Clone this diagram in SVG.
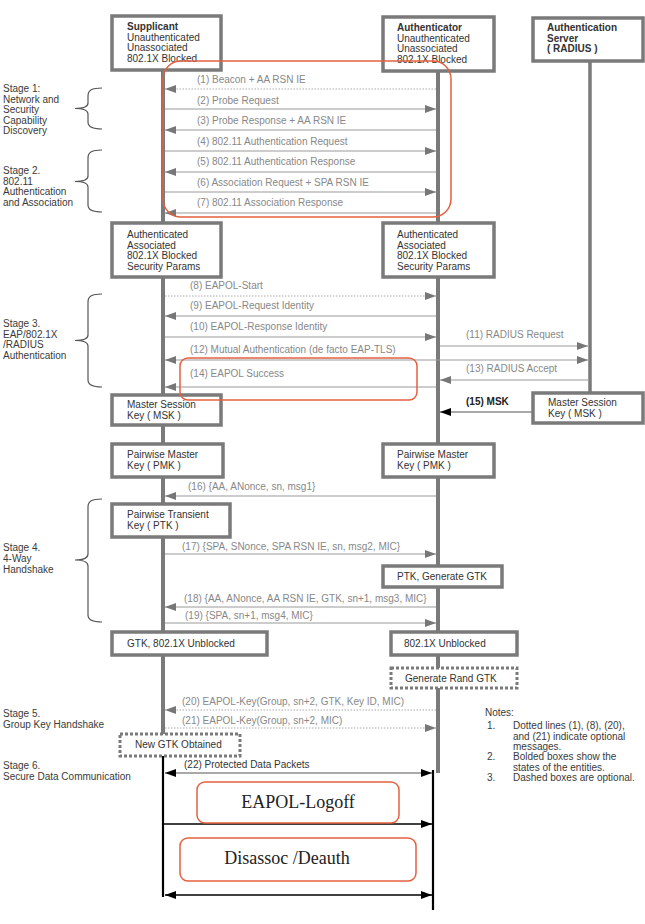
<svg xmlns="http://www.w3.org/2000/svg" width="645" height="924" viewBox="0 0 645 924">
<style>
.bx{fill:#fff;stroke:#7a7a7a;stroke-width:3.5}
.dbx{fill:#fff;stroke:#7a7a7a;stroke-width:3;stroke-dasharray:3,2}
.t{font-family:"Liberation Sans",Arial,sans-serif;font-size:10px;fill:#333}
.b{font-weight:bold}
.m{font-family:"Liberation Sans",Arial,sans-serif;font-size:10px;fill:#888}
.st{font-family:"Liberation Sans",Arial,sans-serif;font-size:10px;fill:#3a3a3a}
.ll{stroke:#7a7a7a;stroke-width:4;fill:none}
.msg{stroke:#999;stroke-width:1.2;fill:none}
.dot{stroke:#aaa;stroke-width:1;stroke-dasharray:1.5,1.5;fill:none}
.blk{stroke:#000;stroke-width:1.6;fill:none}
.red{fill:none;stroke:#e4603f;stroke-width:1.5}
.brace{fill:none;stroke:#555;stroke-width:1.2}
.serif{font-family:"Liberation Serif","Times New Roman",serif;font-size:18px;fill:#222}
</style>
<defs>
<marker id="ag" markerUnits="userSpaceOnUse" markerWidth="12" markerHeight="10" refX="11" refY="4" orient="auto-start-reverse"><path d="M0,0 L11,4 L0,8 z" fill="#777"/></marker>
<marker id="ab" markerUnits="userSpaceOnUse" markerWidth="12" markerHeight="10" refX="11" refY="4" orient="auto-start-reverse"><path d="M0,0 L11,4 L0,8 z" fill="#000"/></marker>
</defs>
<rect width="645" height="924" fill="#fff"/>

<g id="lifelines">
<line class="ll" x1="163" y1="70" x2="163" y2="745"/>
<line class="ll" x1="438" y1="71" x2="438" y2="773"/>
<line class="ll" x1="590" y1="61" x2="590" y2="395" style="stroke-width:3.5"/>
<line class="blk" x1="163" y1="752" x2="163" y2="897" style="stroke-width:2.2"/>
<line class="blk" x1="433" y1="770" x2="433" y2="910" style="stroke-width:2.2"/>
</g>

<g id="connectors">
<line class="dot" x1="436" y1="89" x2="165" y2="89" marker-end="url(#ag)"/>
<line class="msg" x1="165" y1="109" x2="436" y2="109" marker-end="url(#ag)"/>
<line class="msg" x1="436" y1="130" x2="165" y2="130" marker-end="url(#ag)"/>
<line class="msg" x1="165" y1="151" x2="436" y2="151" marker-end="url(#ag)"/>
<line class="msg" x1="436" y1="172" x2="165" y2="172" marker-end="url(#ag)"/>
<line class="msg" x1="165" y1="192" x2="436" y2="192" marker-end="url(#ag)"/>
<line class="msg" x1="436" y1="213" x2="165" y2="213" marker-end="url(#ag)"/>
<line class="dot" x1="165" y1="296" x2="436" y2="296" marker-end="url(#ag)"/>
<line class="msg" x1="436" y1="316" x2="165" y2="316" marker-end="url(#ag)"/>
<line class="msg" x1="165" y1="337" x2="436" y2="337" marker-end="url(#ag)"/>
<line class="msg" x1="440" y1="346" x2="588" y2="346" marker-end="url(#ag)"/>
<line class="msg" x1="165" y1="360" x2="588" y2="360" marker-start="url(#ag)" marker-end="url(#ag)"/>
<line class="msg" x1="588" y1="380" x2="440" y2="380" marker-end="url(#ag)"/>
<line class="msg" x1="436" y1="387" x2="165" y2="387" marker-end="url(#ag)"/>
<line class="msg" x1="533" y1="412" x2="440" y2="412" style="stroke:#555" marker-end="url(#ab)"/>
<line class="msg" x1="436" y1="496" x2="165" y2="496" marker-end="url(#ag)"/>
<line class="msg" x1="165" y1="554" x2="436" y2="554" marker-end="url(#ag)"/>
<line class="msg" x1="436" y1="607" x2="165" y2="607" marker-end="url(#ag)"/>
<line class="msg" x1="165" y1="623" x2="436" y2="623" marker-end="url(#ag)"/>
<line class="dot" x1="436" y1="710" x2="165" y2="710" marker-end="url(#ag)"/>
<line class="dot" x1="165" y1="728" x2="436" y2="728" marker-end="url(#ag)"/>
<line class="msg" x1="165" y1="773" x2="432" y2="773" style="stroke:#555" marker-start="url(#ab)" marker-end="url(#ab)"/>
<line class="blk" x1="164" y1="824" x2="432" y2="824" marker-end="url(#ab)"/>
<line class="blk" x1="165" y1="895" x2="432" y2="895" marker-start="url(#ab)" marker-end="url(#ab)"/>
</g>

<g id="msg-labels" xml:space="preserve">
<text class="m" x="197" y="83">(1)  Beacon + AA RSN IE</text>
<text class="m" x="197" y="104">(2)  Probe Request</text>
<text class="m" x="197" y="124">(3)  Probe Response + AA RSN IE</text>
<text class="m" x="197" y="145">(4)  802.11 Authentication Request</text>
<text class="m" x="197" y="165">(5)  802.11 Authentication Response</text>
<text class="m" x="197" y="186">(6)  Association Request + SPA RSN IE</text>
<text class="m" x="197" y="206">(7)  802.11 Association Response</text>
<text class="m" x="190" y="289">(8)  EAPOL-Start</text>
<text class="m" x="190" y="309">(9)  EAPOL-Request Identity</text>
<text class="m" x="190" y="330">(10) EAPOL-Response Identity</text>
<text class="m" x="466" y="338">(11) RADIUS Request</text>
<text class="m" x="190" y="353">(12) Mutual Authentication (de facto EAP-TLS)</text>
<text class="m" x="466" y="372">(13) RADIUS Accept</text>
<text class="m" x="190" y="377">(14) EAPOL Success</text>
<text class="t b" x="466" y="405" style="fill:#222">(15) MSK</text>
<text class="m" x="188" y="490">(16) {AA, ANonce, sn, msg1}</text>
<text class="m" x="182" y="550">(17) {SPA, SNonce, SPA RSN IE, sn, msg2, MIC}</text>
<text class="m" x="184" y="602">(18) {AA, ANonce, AA RSN IE, GTK, sn+1, msg3, MIC}</text>
<text class="m" x="185" y="619">(19) {SPA, sn+1, msg4, MIC}</text>
<text class="m" x="182" y="705">(20) EAPOL-Key(Group, sn+2, GTK, Key ID, MIC)</text>
<text class="m" x="182" y="724">(21) EAPOL-Key(Group, sn+2, MIC)</text>
<text class="t" x="184" y="768">(22) Protected Data Packets</text>
</g>

<g id="supplicant">
<rect class="bx" x="112" y="16" width="109" height="54"/>
<text class="t b" x="127" y="30">Supplicant</text>
<text class="t" x="127" y="40.5">Unauthenticated</text>
<text class="t" x="127" y="51">Unassociated</text>
<text class="t" x="127" y="61.5">802.1X Blocked</text>
</g>
<g id="authenticator">
<rect class="bx" x="383" y="17" width="111" height="54"/>
<text class="t b" x="397" y="31">Authenticator</text>
<text class="t" x="397" y="41.5">Unauthenticated</text>
<text class="t" x="397" y="52">Unassociated</text>
<text class="t" x="397" y="62.5">802.1X Blocked</text>
</g>
<g id="auth-server">
<rect class="bx" x="533" y="18" width="110" height="43"/>
<text class="t b" x="547" y="31">Authentication</text>
<text class="t b" x="547" y="41.5">Server</text>
<text class="t b" x="547" y="52">( RADIUS )</text>
</g>
<g id="supp-state2">
<rect class="bx" x="112" y="223" width="109" height="54"/>
<text class="t" x="127" y="238">Authenticated</text>
<text class="t" x="127" y="248.5">Associated</text>
<text class="t" x="127" y="259">802.1X Blocked</text>
<text class="t" x="127" y="269.5">Security Params</text>
</g>
<g id="auth-state2">
<rect class="bx" x="383" y="223" width="111" height="54"/>
<text class="t" x="397" y="238">Authenticated</text>
<text class="t" x="397" y="248.5">Associated</text>
<text class="t" x="397" y="259">802.1X Blocked</text>
<text class="t" x="397" y="269.5">Security Params</text>
</g>
<g id="supp-msk">
<rect class="bx" x="112" y="395" width="109" height="30"/>
<text class="t" x="127" y="408">Master Session</text>
<text class="t" x="127" y="418.5">Key ( MSK )</text>
</g>
<g id="server-msk">
<rect class="bx" x="533" y="393" width="110" height="30"/>
<text class="t" x="548" y="406">Master Session</text>
<text class="t" x="548" y="416.5">Key ( MSK )</text>
</g>
<g id="supp-pmk">
<rect class="bx" x="112" y="444" width="111" height="33"/>
<text class="t" x="127" y="458">Pairwise Master</text>
<text class="t" x="127" y="468.5">Key ( PMK )</text>
</g>
<g id="auth-pmk">
<rect class="bx" x="383" y="444" width="111" height="33"/>
<text class="t" x="397" y="458">Pairwise Master</text>
<text class="t" x="397" y="468.5">Key ( PMK )</text>
</g>
<g id="supp-ptk">
<rect class="bx" x="112" y="504" width="118" height="33"/>
<text class="t" x="127" y="518">Pairwise Transient</text>
<text class="t" x="127" y="528.5">Key ( PTK )</text>
</g>
<g id="auth-ptk-gtk">
<rect class="bx" x="383" y="566" width="119" height="21"/>
<text class="t" x="397" y="580">PTK, Generate GTK</text>
</g>
<g id="supp-unblocked">
<rect class="bx" x="112" y="632" width="155" height="23"/>
<text class="t" x="127" y="647">GTK, 802.1X Unblocked</text>
</g>
<g id="auth-unblocked">
<rect class="bx" x="391" y="632" width="126" height="23"/>
<text class="t" x="404" y="647">802.1X Unblocked</text>
</g>
<g id="gen-rand-gtk">
<rect class="dbx" x="391" y="668" width="126" height="20"/>
<text class="t" x="405" y="682">Generate Rand GTK</text>
</g>
<g id="new-gtk">
<rect class="dbx" x="120" y="734" width="120" height="22"/>
<text class="t" x="135" y="748">New GTK Obtained</text>
</g>

<g id="stages">
<text class="st"><tspan x="3" y="92">Stage 1:</tspan><tspan x="3" y="102.5">Network and</tspan><tspan x="3" y="113">Security</tspan><tspan x="3" y="123.5">Capability</tspan><tspan x="3" y="134">Discovery</tspan></text>
<path class="brace" d="M102,88 C92,88 88,90 88,96 L88,103 C88,107 84,108.5 75,108.5 C84,108.5 88,110 88,114 L88,122 C88,127 92,129 102,129"/>
<text class="st"><tspan x="3" y="174">Stage 2.</tspan><tspan x="3" y="184.5">802.11</tspan><tspan x="3" y="195">Authentication</tspan><tspan x="3" y="205.5">and Association</tspan></text>
<path class="brace" d="M102,150 C92,150 88,152 88,158 L88,176 C88,180 84,181.5 75,181.5 C84,181.5 88,183 88,187 L88,205 C88,210 92,212 102,212"/>
<text class="st"><tspan x="3" y="327">Stage 3.</tspan><tspan x="3" y="337.5">EAP/802.1X</tspan><tspan x="3" y="348">/RADIUS</tspan><tspan x="3" y="358.5">Authentication</tspan></text>
<path class="brace" d="M102,294 C92,294 88,296 88,302 L88,335 C88,339 84,340.5 75,340.5 C84,340.5 88,342 88,346 L88,380 C88,385 92,387 102,387"/>
<text class="st"><tspan x="3" y="551">Stage 4.</tspan><tspan x="3" y="562">4-Way</tspan><tspan x="3" y="573">Handshake</tspan></text>
<path class="brace" d="M102,499 C92,499 88,501 88,507 L88,554 C88,558 84,560 75,560 C84,560 88,562 88,566 L88,615 C88,620 92,622 102,622"/>
<text class="st"><tspan x="3" y="717">Stage 5.</tspan><tspan x="3" y="728">Group Key Handshake</tspan></text>
<text class="st"><tspan x="3" y="769">Stage 6.</tspan><tspan x="3" y="780">Secure Data Communication</tspan></text>
</g>

<g id="notes">
<text class="st" x="485" y="716">Notes:</text>
<text class="st" x="487" y="729">1.</text>
<text class="st"><tspan x="513" y="729">Dotted lines (1), (8), (20),</tspan><tspan x="513" y="739.5">and (21) indicate optional</tspan><tspan x="513" y="750">messages.</tspan></text>
<text class="st" x="487" y="760">2.</text>
<text class="st"><tspan x="513" y="760">Bolded boxes show the</tspan><tspan x="513" y="770.5">states of the entities.</tspan></text>
<text class="st" x="487" y="781">3.</text>
<text class="st" x="513" y="781">Dashed boxes are optional.</text>
</g>

<g id="highlights">
<rect class="red" x="163" y="61" width="288" height="156" rx="18"/>
<rect class="red" x="180" y="358" width="237" height="42" rx="8"/>
</g>
<g id="eapol-logoff">
<rect class="red" x="197" y="782" width="202" height="41" rx="8"/>
<text class="serif" x="298" y="808" text-anchor="middle">EAPOL-Logoff</text>
</g>
<g id="disassoc">
<rect class="red" x="180" y="838" width="236" height="43" rx="8"/>
<text class="serif" x="287" y="864" text-anchor="middle">Disassoc /Deauth</text>
</g>
</svg>
